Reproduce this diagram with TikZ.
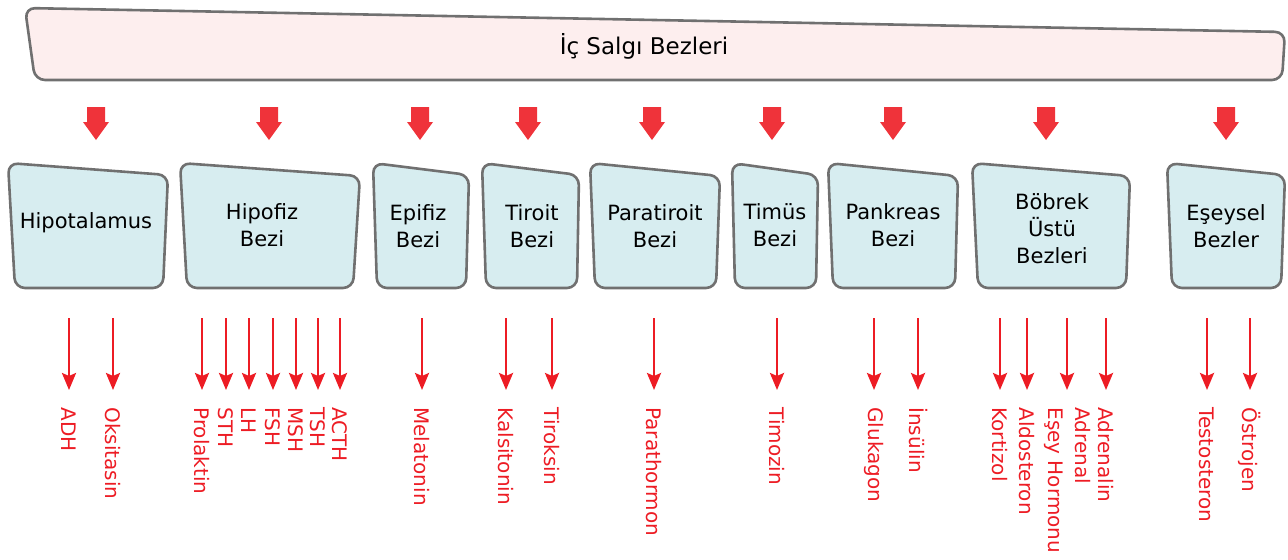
\documentclass[tikz,border=0pt]{standalone}
\usepackage{fontspec}
\setmainfont{DejaVu Sans}
\usetikzlibrary{arrows.meta}
\definecolor{hormred}{RGB}{237,28,36}
\definecolor{glandfill}{RGB}{215,237,240}
\definecolor{bannerfill}{RGB}{253,238,238}
\definecolor{edgegray}{RGB}{112,112,112}

\begin{document}
\begin{tikzpicture}[
  x=0.5pt, y=-0.5pt,
  gland/.style={draw=edgegray, line width=1.3pt, fill=glandfill, rounded corners=5pt},
  glandtext/.style={align=center, inner sep=0pt, font=\fontsize{10.5}{13.5}\selectfont},
  hormon/.style={text=hormred, rotate=-90, anchor=west, inner sep=0pt, align=left, font=\fontsize{10}{13.5}\selectfont},
  harrow/.style={draw=hormred, line width=1.3pt, -{Stealth[length=8.5pt, width=7pt, inset=1.5pt]}, shorten >=8.5pt},
  downblock/.pic={\fill[hormred!90] (-9,0) -- (9,0) -- (9,15) -- (13,15) -- (0,33) -- (-13,15) -- (-9,15) -- cycle;},
]

\useasboundingbox (0,0) rectangle (1288,559);

\draw [gland, fill=bannerfill] (25,8) -- (1285,32) -- (1282,80) -- (35,80) -- cycle;
\node [glandtext, font=\fontsize{11.5}{14}\selectfont] (title) at (644,46) {İç Salgı Bezleri};

\pic at (96,107) {downblock};
\pic at (269,107) {downblock};
\pic at (420,107) {downblock};
\pic at (528,107) {downblock};
\pic at (652,107) {downblock};
\pic at (772,107) {downblock};
\pic at (893,107) {downblock};
\pic at (1046,107) {downblock};
\pic at (1226,107) {downblock};

\draw [gland] (8,163) -- (168,175) -- (163,288) -- (15,288) -- cycle;
\draw [gland] (180,163) -- (360,176) -- (353,288) -- (187,288) -- cycle;
\draw [gland] (373,163) -- (469,175) -- (466,288) -- (377,288) -- cycle;
\draw [gland] (482,163) -- (579,175) -- (577,288) -- (486,288) -- cycle;
\draw [gland] (590,163) -- (720,176) -- (716,288) -- (595,288) -- cycle;
\draw [gland] (732,163) -- (818,175) -- (816,288) -- (735,288) -- cycle;
\draw [gland] (828,163) -- (958,176) -- (955,288) -- (833,288) -- cycle;
\draw [gland] (972,163) -- (1130,176) -- (1126,288) -- (978,288) -- cycle;
\draw [gland] (1167,163) -- (1285,175) -- (1281,288) -- (1172,288) -- cycle;

\node [glandtext] (hipotalamus) at (86,223) {Hipotalamus};
\node [glandtext] (hipofiz) at (262,225) {Hipofiz\\Bezi};
\node [glandtext] (epifiz) at (418,226) {Epifiz\\Bezi};
\node [glandtext] (tiroit) at (532,226) {Tiroit\\Bezi};
\node [glandtext] (paratiroit) at (655,226) {Paratiroit\\Bezi};
\node [glandtext] (timus) at (775,225) {Timüs\\Bezi};
\node [glandtext] (pankreas) at (893,225) {Pankreas\\Bezi};
\node [glandtext] (bobrek) at (1052,229) {Böbrek\\Üstü\\Bezleri};
\node [glandtext] (eseysel) at (1226,226) {Eşeysel\\Bezler};

\coordinate (outlet) at (0,318);

\node [hormon] (adh) at (69,407) {ADH};
\node [hormon] (oksitasin) at (113,407) {Oksitasin};
\node [hormon] (prolaktin) at (202,407) {Prolaktin};
\node [hormon] (sth) at (226,407) {STH};
\node [hormon] (lh) at (249,407) {LH};
\node [hormon] (fsh) at (273,407) {FSH};
\node [hormon] (msh) at (296,407) {MSH};
\node [hormon] (tsh) at (318,407) {TSH};
\node [hormon] (acth) at (340,407) {ACTH};
\node [hormon] (melatonin) at (422,407) {Melatonin};
\node [hormon] (kalsitonin) at (506,407) {Kalsitonin};
\node [hormon] (tiroksin) at (552,407) {Tiroksin};
\node [hormon] (parathormon) at (654,407) {Parathormon};
\node [hormon] (timozin) at (777,407) {Timozin};
\node [hormon] (glukagon) at (874,407) {Glukagon};
\node [hormon] (insulin) at (918,407) {İnsülin};
\node [hormon] (kortizol) at (1000,407) {Kortizol};
\node [hormon] (aldosteron) at (1027,407) {Aldosteron};
\node [hormon] (adrenal) at (1067,407) {Adrenal\\Eşey Hormonu};
\node [hormon] (adrenalin) at (1106,407) {Adrenalin};
\node [hormon] (testosteron) at (1207,407) {Testosteron};
\node [hormon] (ostrojen) at (1250,407) {Östrojen};

\draw [harrow] (adh.west |- outlet) -- (adh.west);
\draw [harrow] (oksitasin.west |- outlet) -- (oksitasin.west);
\draw [harrow] (prolaktin.west |- outlet) -- (prolaktin.west);
\draw [harrow] (sth.west |- outlet) -- (sth.west);
\draw [harrow] (lh.west |- outlet) -- (lh.west);
\draw [harrow] (fsh.west |- outlet) -- (fsh.west);
\draw [harrow] (msh.west |- outlet) -- (msh.west);
\draw [harrow] (tsh.west |- outlet) -- (tsh.west);
\draw [harrow] (acth.west |- outlet) -- (acth.west);
\draw [harrow] (melatonin.west |- outlet) -- (melatonin.west);
\draw [harrow] (kalsitonin.west |- outlet) -- (kalsitonin.west);
\draw [harrow] (tiroksin.west |- outlet) -- (tiroksin.west);
\draw [harrow] (parathormon.west |- outlet) -- (parathormon.west);
\draw [harrow] (timozin.west |- outlet) -- (timozin.west);
\draw [harrow] (glukagon.west |- outlet) -- (glukagon.west);
\draw [harrow] (insulin.west |- outlet) -- (insulin.west);
\draw [harrow] (kortizol.west |- outlet) -- (kortizol.west);
\draw [harrow] (aldosteron.west |- outlet) -- (aldosteron.west);
\draw [harrow] (adrenal.west |- outlet) -- (adrenal.west);
\draw [harrow] (adrenalin.west |- outlet) -- (adrenalin.west);
\draw [harrow] (testosteron.west |- outlet) -- (testosteron.west);
\draw [harrow] (ostrojen.west |- outlet) -- (ostrojen.west);

\end{tikzpicture}
\end{document}
